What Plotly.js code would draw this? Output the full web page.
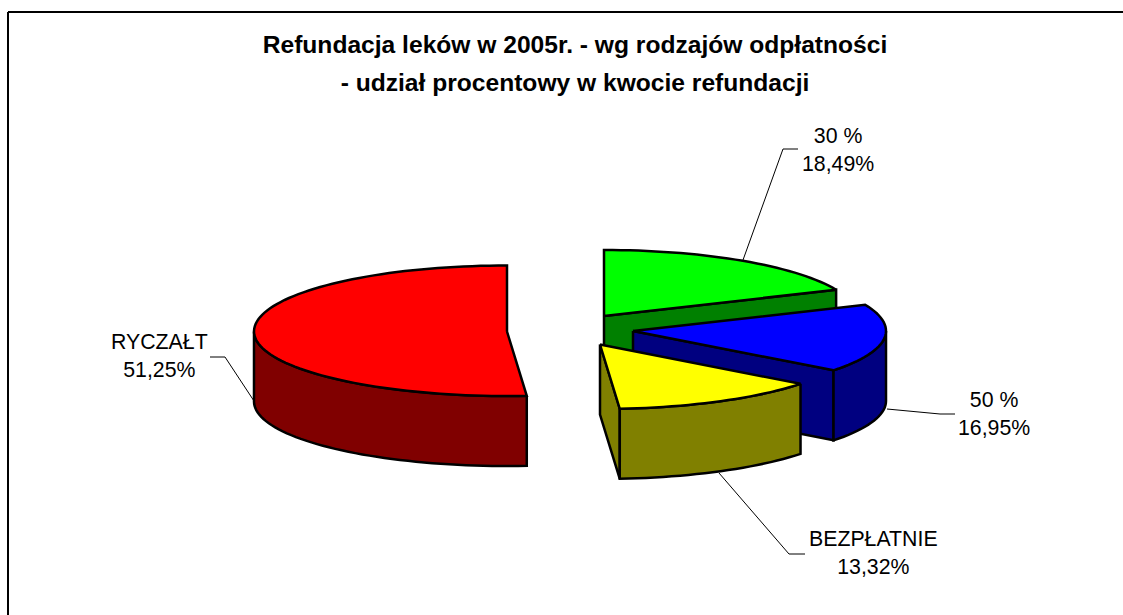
<!DOCTYPE html>
<html><head><meta charset="utf-8">
<script src="https://cdn.plot.ly/plotly-3.0.1.min.js"></script>
<style>html,body{margin:0;padding:0;background:#fff}#c{width:1123px;height:615px}</style>
</head><body><div id="c"></div>
<script>
const categories = ['30 %', '50 %', 'BEZPŁATNIE', 'RYCZAŁT'];
const shares = [18.49, 16.95, 13.32, 51.25];
const shareText = ['18,49%', '16,95%', '13,32%', '51,25%'];
const topColors = ['#00ff00', '#0000ff', '#ffff00', '#ff0000'];
const sideColors = ['#008000', '#000080', '#808000', '#800000'];
const apexX = [604, 633, 600, 507];
const apexY = [316, 331, 344.5, 331.5];
const labelX = [838, 994, 873, 159];
const labelY = [150, 414, 553, 356];
const leaderX = [[743, 783, 798], [887, 940, 955], [719, 789, 805], [254, 225, 210]];
const leaderY = [[260, 149, 149], [409, 414, 414], [473, 554, 554], [401, 357, 357]];
const RX = 253, RY_BACK = 66, RY_FRONT = 64.5, DEPTH = 70;
const total = shares.reduce((a, b) => a + b, 0);
const traces = [];
function pt(i, deg, drop) {
  const t = deg * Math.PI / 180, c = Math.cos(t);
  return [apexX[i] + RX * Math.sin(t), apexY[i] - (c > 0 ? RY_BACK : RY_FRONT) * c + drop];
}
function add(points, color) {
  traces.push({type: 'scatter', mode: 'lines', x: points.map(p => p[0]), y: points.map(p => p[1]),
    fill: 'toself', fillcolor: color, line: {color: '#000', width: 2.5, simplify: false},
    hoverinfo: 'skip', showlegend: false});
}
function arc(i, a, b, drop) {
  const out = [], n = Math.max(2, Math.ceil(Math.abs(b - a) / 2));
  for (let k = 0; k <= n; k++) out.push(pt(i, a + (b - a) * k / n, drop));
  return out;
}
let acc = 0;
const slices = shares.map(v => { const s = {a: acc, b: acc + v / total * 360}; acc = s.b; return s; });
[3, 0, 1, 2].forEach(i => {
  const {a, b} = slices[i];
  const apex = [apexX[i], apexY[i]], apexLow = [apexX[i], apexY[i] + DEPTH];
  if (Math.sin(a * Math.PI / 180) < -1e-6) add([apex, pt(i, a, 0), pt(i, a, DEPTH), apexLow, apex], sideColors[i]);
  if (Math.sin(b * Math.PI / 180) > 1e-6) add([apex, pt(i, b, 0), pt(i, b, DEPTH), apexLow, apex], sideColors[i]);
  const fa = Math.max(a, 90), fb = Math.min(b, 270);
  if (fb > fa) {
    const up = arc(i, fa, fb, 0), low = arc(i, fb, fa, DEPTH);
    add(up.concat(low, [up[0]]), sideColors[i]);
  }
  const face = [apex].concat(arc(i, a, b, 0), [apex]);
  add(face, topColors[i]);
});
leaderX.forEach((xs, i) => traces.push({type: 'scatter', mode: 'lines', x: xs, y: leaderY[i],
  line: {color: '#000', width: 1, simplify: false}, hoverinfo: 'skip', showlegend: false}));
const annotations = categories.map((c, i) => ({x: labelX[i], y: labelY[i], xref: 'x', yref: 'y',
  text: c + '<br>' + shareText[i], showarrow: false, align: 'center', xanchor: 'center', yanchor: 'middle',
  font: {family: '"Liberation Sans", Arial, sans-serif', size: 21.3, color: '#000'}}));
const layout = {
  width: 1123, height: 615, margin: {l: 0, r: 0, t: 0, b: 0, pad: 0},
  paper_bgcolor: '#fff', plot_bgcolor: '#fff', showlegend: false,
  title: {text: '<span style="font-size:24.6px"><b>Refundacja leków w 2005r. - wg rodzajów odpłatności<br>- udział procentowy w kwocie refundacji</b></span>',
    x: 575 / 1123, xanchor: 'center', y: 1 - 53 / 615, yanchor: 'middle',
    font: {family: '"Liberation Sans", Arial, sans-serif', size: 29.2, color: '#000'}},
  xaxis: {range: [0, 1123], visible: false, fixedrange: true},
  yaxis: {range: [615, 0], visible: false, fixedrange: true},
  annotations,
  shapes: [
    {type: 'line', xref: 'x', yref: 'y', x0: 8, y0: 12, x1: 1123, y1: 12, line: {color: '#000', width: 2}},
    {type: 'line', xref: 'x', yref: 'y', x0: 8, y0: 12, x1: 8, y1: 615, line: {color: '#000', width: 2}}
  ]
};
Plotly.newPlot('c', traces, layout, {displayModeBar: false, staticPlot: true});
</script></body></html>
